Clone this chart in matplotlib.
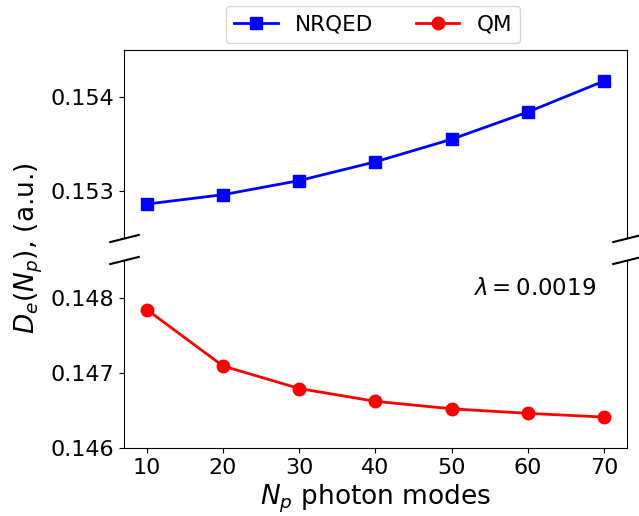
import matplotlib
matplotlib.use("Agg")
import matplotlib.pyplot as plt

# photon modes and binding energies (a.u.)
n_modes = [10, 20, 30, 40, 50, 60, 70]
nrqed = [0.15286, 0.15296, 0.15311, 0.15331, 0.15355, 0.15384, 0.15417]
qm = [0.14784, 0.14709, 0.14679, 0.14662, 0.14652, 0.14646, 0.14641]
lam_label = r"$\lambda = 0.0019$"

fig = plt.figure(figsize=(6.39, 5.16), dpi=100)
ax_top = fig.add_axes([0.194, 0.539, 0.787, 0.364])
ax_bot = fig.add_axes([0.194, 0.132, 0.787, 0.364], sharex=ax_top)

l1, = ax_top.plot(n_modes, nrqed, "s-", color="blue", lw=2, ms=9, label="NRQED")
l2, = ax_bot.plot(n_modes, qm, "o-", color="red", lw=2, ms=9, label="QM")

ax_top.set_ylim(0.1525, 0.1545)
ax_bot.set_ylim(0.146, 0.1485)
ax_top.set_yticks([0.153, 0.154])
ax_bot.set_yticks([0.146, 0.147, 0.148])
ax_bot.set_xticks(n_modes)

ax_top.spines["bottom"].set_visible(False)
ax_bot.spines["top"].set_visible(False)
ax_top.tick_params(axis="x", bottom=False, labelbottom=False)
ax_top.tick_params(axis="y", labelsize=16)
ax_bot.tick_params(labelsize=16)

# break marks
d = 0.25
kw = dict(marker=[(-1, -d), (1, d)], markersize=22, linestyle="none",
          color="k", mec="k", mew=1.5, clip_on=False)
ax_top.plot([0, 1], [0, 0], transform=ax_top.transAxes, **kw)
ax_bot.plot([0, 1], [1, 1], transform=ax_bot.transAxes, **kw)

ax_bot.text(0.817, 0.846, lam_label, transform=ax_bot.transAxes,
            ha="center", va="center", fontsize=16.5)

ax_bot.set_xlabel(r"$N_p$ photon modes", fontsize=19)
fig.text(0.045, 0.52, r"$D_e(N_p)$, (a.u.)", rotation=90,
         ha="center", va="center", fontsize=19)

fig.legend(handles=[l1, l2], loc="upper center", ncol=2, fontsize=15.5,
           bbox_to_anchor=(0.584, 1.01), columnspacing=2.0)

fig.savefig("out.png", dpi=100)
